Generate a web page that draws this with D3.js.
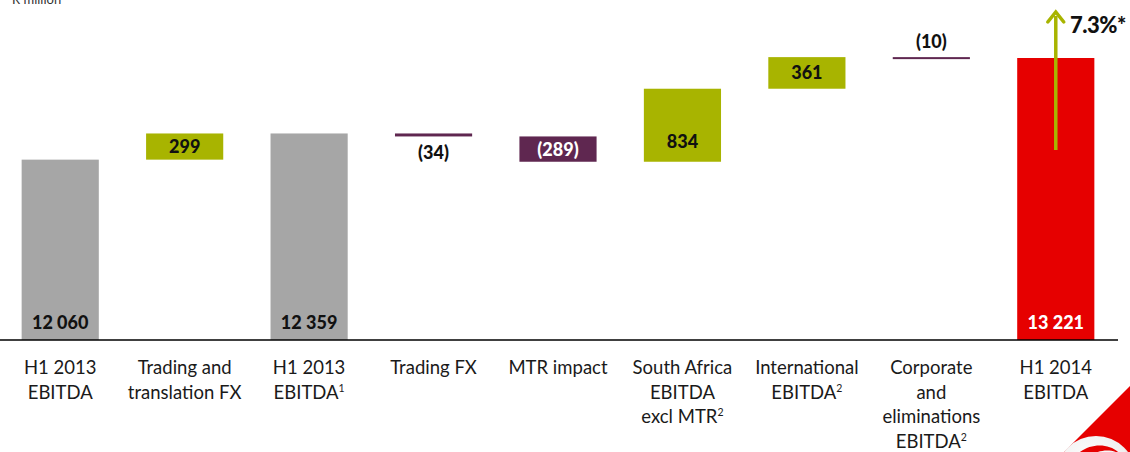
<!DOCTYPE html>
<html>
<head>
<meta charset="utf-8">
<script src="https://cdn.jsdelivr.net/npm/d3@7"></script>
<style>
  html, body { margin: 0; padding: 0; background: #fff; }
  svg { display: block; font-family: Lato, "Open Sans", sans-serif; }
</style>
</head>
<body>
<svg id="chart" width="1130" height="452"></svg>
<script>
// EBITDA bridge, R million
const categories = [
  ["H1 2013", "EBITDA"],
  ["Trading and", "translation FX"],
  ["H1 2013", "EBITDA|1"],
  ["Trading FX"],
  ["MTR impact"],
  ["South Africa", "EBITDA", "excl MTR|2"],
  ["International", "EBITDA|2"],
  ["Corporate", "and", "eliminations", "EBITDA|2"],
  ["H1 2014", "EBITDA"]
];
const values = [12060, 299, 12359, -34, -289, 834, 361, -10, 13221];
const kinds = ["total", "delta", "total", "delta", "delta", "delta", "delta", "delta", "total"];
const labelSpots = ["base", "mid", "base", "below", "mid", "low", "mid", "above", "base"];
const growthLabel = "7.3%*";
const unitLabel = "R million";

const colors = {
  total: "#a6a6a6",
  up: "#a8b400",
  down: "#5f2750",
  final: "#e60000"
};

const svg = d3.select("#chart");

// waterfall steps
let running = 0;
const steps = values.map((v, i) => {
  let start, end;
  if (kinds[i] === "total") { start = 10000; end = v; running = v; }
  else { start = running; end = running + v; running = end; }
  return { i, v, kind: kinds[i], start, end, lo: Math.min(start, end), hi: Math.max(start, end) };
});

const x = d3.scaleBand()
  .domain(d3.range(categories.length))
  .range([-2, 1118])
  .paddingInner(0.38)
  .paddingOuter(0.19);

const y = d3.scaleLinear().domain([10000, 13221]).range([340, 58]);

function fillOf(d) {
  if (d.kind === "total") return d.i === steps.length - 1 ? colors.final : colors.total;
  return d.v >= 0 ? colors.up : colors.down;
}

// bars
svg.append("g").selectAll("rect")
  .data(steps)
  .join("rect")
  .attr("x", d => x(d.i))
  .attr("width", x.bandwidth())
  .attr("y", d => y(d.hi))
  .attr("height", d => Math.max(2, y(d.lo) - y(d.hi)))
  .attr("fill", fillOf);

// baseline
svg.append("line")
  .attr("x1", 0).attr("x2", 1118)
  .attr("y1", 340).attr("y2", 340)
  .attr("stroke", "#000").attr("stroke-width", 1.5);

// value labels
const fmt = v => {
  const s = d3.format(",")(Math.abs(v)).replace(/,/g, " ");
  return v < 0 ? "(" + s + ")" : s;
};
svg.append("g").selectAll("text")
  .data(steps)
  .join("text")
  .attr("x", d => x(d.i) + x.bandwidth() / 2)
  .attr("y", d => {
    const spot = labelSpots[d.i];
    if (spot === "base") return y(d.lo) - 11;
    if (spot === "mid") return (y(d.lo) + y(d.hi)) / 2 + 6.5;
    if (spot === "low") return y(d.lo) - 14;
    if (spot === "below") return y(d.lo) + 23;
    return y(d.hi) - 9;
  })
  .attr("text-anchor", "middle")
  .attr("font-size", 18)
  .attr("font-weight", 900)
  .attr("fill", d => {
    const spot = labelSpots[d.i];
    if (spot === "below" || spot === "above") return "#111";
    if (d.kind === "total" && d.i === steps.length - 1) return "#fff";
    return d.kind === "delta" && d.v < 0 ? "#fff" : "#111";
  })
  .text(d => fmt(d.v));

// category labels with superscript footnotes
const cat = svg.append("g").selectAll("text")
  .data(categories)
  .join("text")
  .attr("text-anchor", "middle")
  .attr("font-size", 18.5)
  .attr("fill", "#1a1a1a");
cat.each(function(lines, i) {
  const t = d3.select(this);
  const cx = x(i) + x.bandwidth() / 2;
  lines.forEach((line, k) => {
    const [main, sup] = line.split("|");
    const ln = t.append("tspan")
      .attr("x", cx)
      .attr("y", 374 + k * 24.5);
    ln.append("tspan").text(main);
    if (sup) {
      ln.append("tspan").attr("font-size", 10.5).attr("dy", -7).text(sup);
    }
  });
});

// growth arrow on the final bar
const last = steps[steps.length - 1];
const ax = x(last.i) + x.bandwidth() / 2;
svg.append("line")
  .attr("x1", ax).attr("x2", ax)
  .attr("y1", 150).attr("y2", 16)
  .attr("stroke", colors.up).attr("stroke-width", 3.5);
svg.append("path")
  .attr("d", `M${ax - 8},${22} L${ax},${12} L${ax + 8},${22}`)
  .attr("fill", "none")
  .attr("stroke", colors.up).attr("stroke-width", 3.5)
  .attr("stroke-linecap", "round");
svg.append("text")
  .attr("x", 1070).attr("y", 33)
  .attr("font-size", 22).attr("font-weight", 900).attr("fill", "#111")
  .attr("letter-spacing", -0.5)
  .text(growthLabel);

// unit label, tucked against the top edge
svg.append("text")
  .attr("x", 12).attr("y", 4)
  .attr("font-size", 13).attr("fill", "#333")
  .text(unitLabel);

// corner brand mark
svg.append("path")
  .attr("d", "M1130,386 L1130,452 L1064,452 Z")
  .attr("fill", "#e60000");
const grad = svg.append("defs").append("radialGradient")
  .attr("id", "markShade").attr("cx", "40%").attr("cy", "35%").attr("r", "65%");
grad.append("stop").attr("offset", "0%").attr("stop-color", "#ffffff");
grad.append("stop").attr("offset", "75%").attr("stop-color", "#f0f0f0");
grad.append("stop").attr("offset", "100%").attr("stop-color", "#b8b8b8");
const mark = svg.append("g").attr("transform", "translate(1096,476)");
mark.append("circle").attr("r", 40).attr("fill", "url(#markShade)");
mark.append("path")
  .attr("d", "M-22,-18 C-10,-34 14,-34 24,-22 C14,-28 0,-26 -8,-18 C-2,-22 8,-20 10,-14 C0,-16 -12,-12 -22,-4 Z")
  .attr("fill", "#e60000");
</script>
</body>
</html>
